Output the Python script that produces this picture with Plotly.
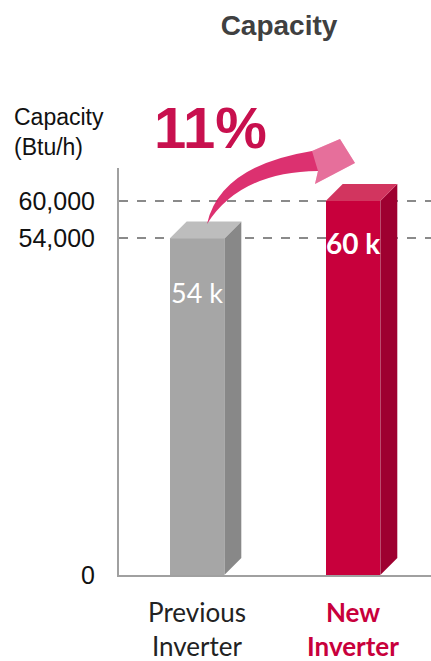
import plotly.graph_objects as go

# ---- data ----
categories = ["Previous Inverter", "New Inverter"]
capacity = [54000, 60000]
bar_labels = ["54 k", "60 k"]
tick_values = [0, 54000, 60000]
tick_labels = ["0", "54,000", "60,000"]
increase_label = "11%"

# ---- styling ----
W, H = 431, 661
L, R, T, B = 119, 0, 168, 86
YMAX = 65300
bar_w = 0.35
dx = 0.109          # depth offset in category units
dy = 2727           # depth offset in data units
front = ["#a6a6a6", "#c8003c"]
side = ["#888888", "#9e0030"]
top = ["#bdbdbd", "#d2355f"]

xpos = list(range(len(categories)))
fig = go.Figure()

fig.add_trace(go.Bar(x=xpos, y=capacity, width=bar_w, marker=dict(color=front, line=dict(width=0)),
                     hoverinfo="skip", showlegend=False))

for i, v in enumerate(capacity):
    x0 = xpos[i] - bar_w / 2
    x1 = xpos[i] + bar_w / 2
    # side face
    fig.add_trace(go.Scatter(x=[x1, x1 + dx, x1 + dx, x1, x1], y=[0, dy, v + dy, v, 0],
                             fill="toself", fillcolor=side[i], mode="lines", line=dict(width=0),
                             hoverinfo="skip", showlegend=False))
    # top face
    fig.add_trace(go.Scatter(x=[x0, x0 + dx, x1 + dx, x1, x0], y=[v, v + dy, v + dy, v, v],
                             fill="toself", fillcolor=top[i], mode="lines", line=dict(width=0),
                             hoverinfo="skip", showlegend=False))

def px(x):
    return (x - L) / (W - L - R)

def py(y):
    return (H - B - y) / (H - T - B)

def make_path(pts):
    path = ""
    for cmd, p in pts:
        path += cmd + " " + " ".join(f"{px(a):.4f},{py(b):.4f}" for a, b in p) + " "
    return path + "Z"

# curved arrow (decoration)
arrow = [("M", [(207, 224)]), ("Q", [(220, 166), (312, 151)]), ("L", [(340, 139)]), ("L", [(355, 163)]),
         ("L", [(315, 184)]), ("L", [(318, 171)]), ("Q", [(240, 172), (207, 224)])]
head = [("M", [(312, 151)]), ("L", [(340, 139)]), ("L", [(355, 163)]),
        ("L", [(315, 184)]), ("L", [(318, 171)])]

shapes = [dict(type="path", path=make_path(arrow), xref="paper", yref="paper", fillcolor="#d81b60",
               opacity=0.9, line=dict(width=0), layer="above"),
          dict(type="path", path=make_path(head), xref="paper", yref="paper", fillcolor="#ffffff",
               opacity=0.3, line=dict(width=0), layer="above")]

annotations = [
    dict(text="Capacity<br>(Btu/h)", x=px(12), y=py(132), xref="paper", yref="paper",
         xanchor="left", yanchor="middle", align="left", showarrow=False,
         font=dict(family="Liberation Sans, Arial", size=23, color="#111111")),
    dict(text=f"<b>{increase_label}</b>", x=px(210), y=py(127), xref="paper", yref="paper",
         xanchor="center", yanchor="middle", showarrow=False,
         font=dict(family="Liberation Sans, Arial", size=58, color="#c8104e")),
    dict(text=bar_labels[0], x=xpos[0], y=capacity[0], xref="x", yref="y", yshift=-54,
         xanchor="center", yanchor="middle", showarrow=False,
         font=dict(family="Lato", size=27, color="white")),
    dict(text=f"<b>{bar_labels[1]}</b>", x=xpos[1], y=capacity[1], xref="x", yref="y", yshift=-42,
         xanchor="center", yanchor="middle", showarrow=False,
         font=dict(family="Lato", size=28, color="white")),
]

ticktext = ["Previous<br>Inverter", "<b><span style='color:#c8003c'>New<br>Inverter</span></b>"]

fig.update_layout(
    width=W, height=H,
    margin=dict(l=L, r=R, t=T, b=B),
    paper_bgcolor="white", plot_bgcolor="white",
    title=dict(text="<b>Capacity</b>", x=px(279), xref="paper", xanchor="center",
               y=1 - 25 / H, yanchor="middle",
               font=dict(family="Liberation Sans, Arial", size=28, color="#404040")),
    shapes=shapes,
    annotations=annotations,
    xaxis=dict(range=[-0.5, 1.5], tickvals=xpos, ticktext=ticktext, showgrid=False, zeroline=False,
               showline=True, linecolor="#a0a0a0", linewidth=2, ticks="",
               ticklabelstandoff=14, automargin=False,
               tickfont=dict(family="Lato", size=26, color="#222222")),
    yaxis=dict(range=[0, YMAX], tickvals=tick_values, ticktext=tick_labels, showgrid=True,
               gridcolor="#8a8a8a", griddash="dash", gridwidth=1.5, zeroline=False,
               showline=True, linecolor="#a0a0a0", linewidth=2, ticks="",
               ticklabelstandoff=17, automargin=False,
               tickfont=dict(family="Liberation Sans, Arial", size=25, color="#111111")),
    bargap=0,
)

fig.write_html("out.html", config={"displayModeBar": False},
               post_script="document.body.style.margin='0';document.body.style.overflow='hidden';")
